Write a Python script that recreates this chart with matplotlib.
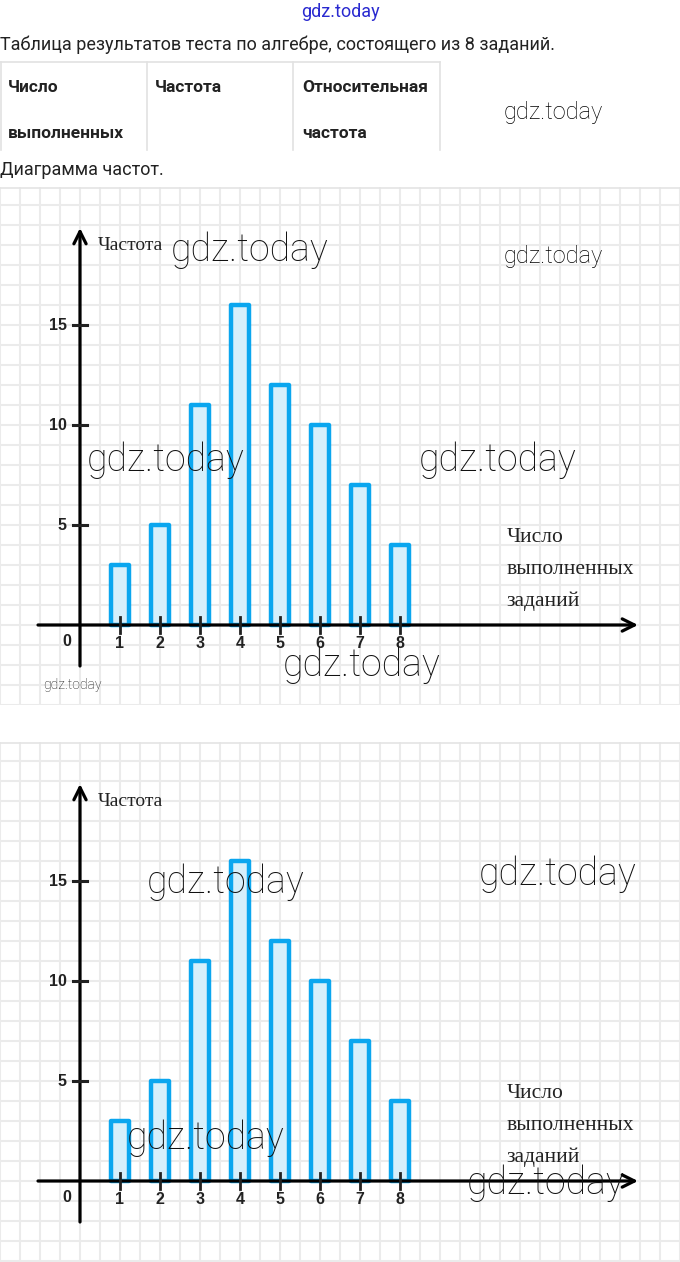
import numpy as np
import matplotlib
matplotlib.use("Agg")
import matplotlib.pyplot as plt

W, H = 680, 1262

# data
scores = [1, 2, 3, 4, 5, 6, 7, 8]
freqs = [3, 5, 11, 16, 12, 10, 7, 4]
y_ticks = [5, 10, 15]

title_text = "Таблица результатов теста по алгебре, состоящего из 8 заданий."
table_cols = [["Число", "выполненных"], ["Частота", ""], ["Относительная", "частота"]]
chart_title = "Диаграмма частот."
y_label = "Частота"
x_label = ["Число", "выполненных", "заданий"]
wm = "gdz.today"

bar_edge = "#0ba6ef"
bar_fill = "#d6effb"
grid_col = "#ebebeb"
txt_col = "#222222"

fig = plt.figure(figsize=(W / 100, H / 100), dpi=100)
fig.patch.set_facecolor("white")


def px(x, y):
    return x / W, 1 - y / H


def ftext(x, y, s, **kw):
    fx, fy = px(x, y)
    fig.text(fx, fy, s, **kw)


def draw_chart(ax, ytop, ybot):
    ax.set_xlim(-2, 15)
    ax.set_ylim(ybot, ytop)
    ax.set_xticks(np.arange(-2, 15.01, 0.5))
    ax.set_yticks(np.arange(-4, 22, 1))
    ax.grid(True, color=grid_col, lw=1.5)
    ax.set_axisbelow(True)
    ax.tick_params(length=0, labelbottom=False, labelleft=False)
    for sp in ax.spines.values():
        sp.set_visible(False)
    ax.axhline(ytop - 0.05, color="#e4e4e4", lw=1.2)

    bars = ax.bar(scores, freqs, width=0.47, color=bar_fill, edgecolor=bar_edge,
                  linewidth=3.2, zorder=3)
    for b in bars:
        b.set_joinstyle("round")

    # axes with arrows
    ax.annotate("", xy=(13.95, 0), xytext=(-1.05, 0),
                arrowprops=dict(arrowstyle="->", lw=2.3, color="black",
                                mutation_scale=22, shrinkA=0, shrinkB=0), zorder=5)
    ax.annotate("", xy=(0, 19.85), xytext=(0, -2.05),
                arrowprops=dict(arrowstyle="->", lw=2.3, color="black",
                                mutation_scale=22, shrinkA=0, shrinkB=0), zorder=5)

    for t in y_ticks:
        ax.plot([-0.18, 0.18], [t, t], color="#222222", lw=2.2, zorder=5)
        ax.text(-0.33, t, str(t), ha="right", va="center", fontsize=11.5,
                fontweight="bold", color=txt_col, family="Liberation Sans")
    for s in scores:
        ax.plot([s, s], [-0.4, 0.4], color="#222222", lw=2.0, zorder=6)
        ax.text(s, -0.95, str(s), ha="center", va="center", fontsize=11.5,
                fontweight="bold", color=txt_col, family="Liberation Sans")
    ax.text(-0.33, -0.85, "0", ha="center", va="center", fontsize=11.5,
            fontweight="bold", color=txt_col, family="Liberation Sans")

    ax.text(0.45, 19.0, y_label, ha="left", va="center", fontsize=14,
            color="#222222", family="Liberation Serif")
    for i, line in enumerate(x_label):
        ax.text(10.67, 4.4 - 1.6 * i, line, ha="left", va="center", fontsize=15.5,
                color="#222222", family="Liberation Serif")


# charts
ax1 = fig.add_axes([0, 1 - 705 / H, 1, (705 - 187) / H])
draw_chart(ax1, 21.9, -4.0)
ax2 = fig.add_axes([0, 0, 1, (H - 742) / H])
draw_chart(ax2, 21.95, -4.05)

# header
ftext(340, 12, wm, ha="center", va="center", fontsize=13, color="#2a2ad0",
      family="Roboto")
ftext(0, 45, title_text, ha="left", va="center", fontsize=13, color="#222222",
      family="Roboto")

# table
tab = fig.add_axes([0, 0, 1, 1], facecolor="none")
tab.set_xlim(0, W)
tab.set_ylim(H, 0)
tab.axis("off")
tab.plot([0, 440], [62, 62], color="#e2e2e2", lw=1.2)
for xb in [1, 147, 293, 440]:
    tab.plot([xb, xb], [62, 150], color="#e2e2e2", lw=1.2)
for i, col in enumerate(table_cols):
    ftext(8 + 147 * i, 88, col[0], ha="left", va="center", fontsize=12.5,
          fontweight="bold", color="#222222", family="Roboto")
    if col[1]:
        ftext(8 + 147 * i, 134, col[1], ha="left", va="center", fontsize=12.5,
              fontweight="bold", color="#222222", family="Roboto")
ftext(0, 170, chart_title, ha="left", va="center", fontsize=13, color="#222222",
      family="Roboto")

# watermarks
big = dict(ha="center", va="center", fontsize=27, color="#111111",
           family="Roboto", fontweight="light")
small = dict(ha="center", va="center", fontsize=17, color="#000000",
             family="Roboto", fontweight="light")
ftext(553, 112, wm, **small)
ftext(250, 250, wm, **big)
ftext(553, 257, wm, **small)
ftext(166, 460, wm, **big)
ftext(498, 460, wm, **big)
ftext(362, 665, wm, **big)
ftext(72, 685, wm, ha="center", va="center", fontsize=10, color="#111111",
      family="Roboto", fontweight="light")
ftext(226, 882, wm, **big)
ftext(558, 874, wm, **big)
ftext(206, 1138, wm, **big)
ftext(546, 1183, wm, **big)

fig.savefig("out.png", dpi=100)
